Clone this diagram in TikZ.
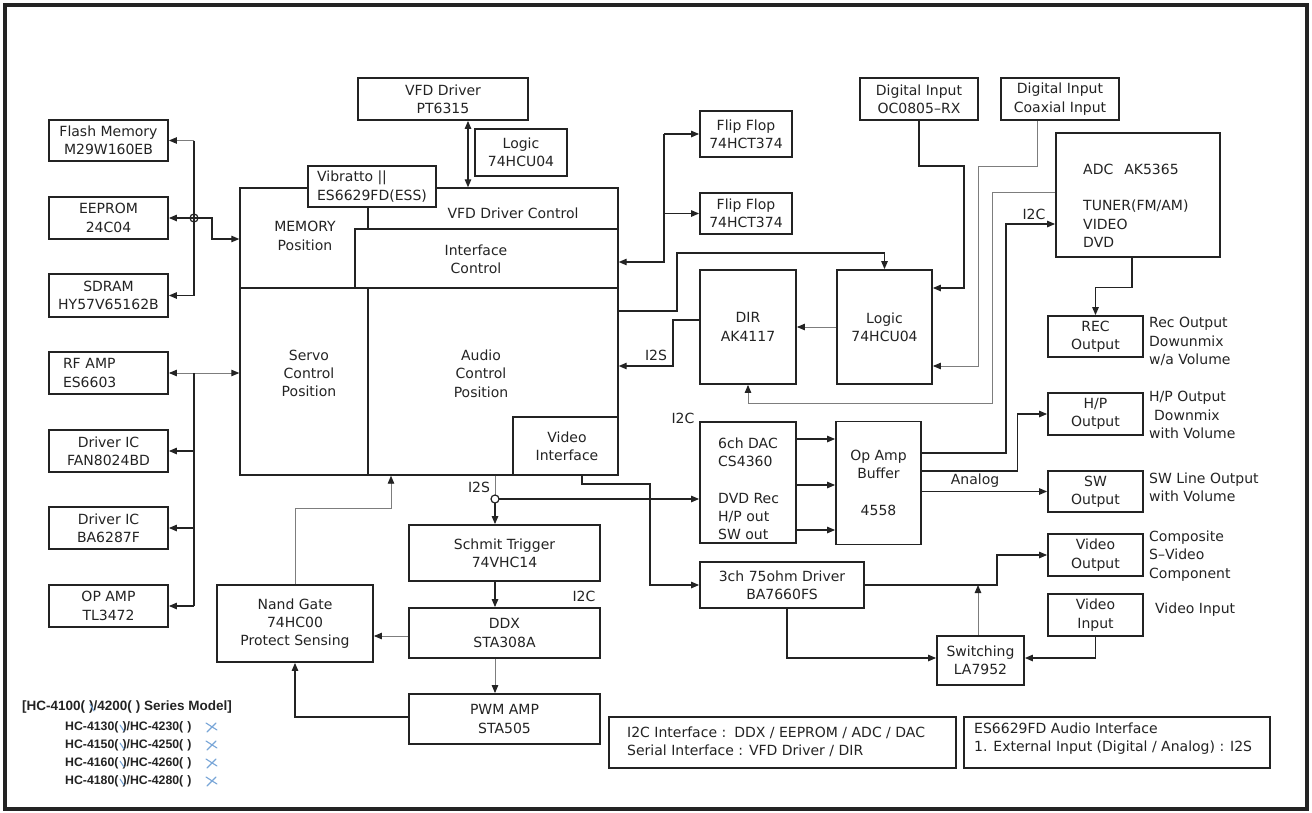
\documentclass[tikz,border=0pt]{standalone}
\usepackage{fontspec}
\usetikzlibrary{arrows.meta}
\newfontfamily\cadfont[Ligatures=TeX]{DejaVu Sans}
\newfontfamily\legfont{Liberation Sans}
\definecolor{ink}{RGB}{35,35,35}
\definecolor{faintink}{RGB}{125,125,125}
\definecolor{tickblue}{RGB}{120,165,215}
\begin{document}
\begin{tikzpicture}[x=1pt,y=-1pt,
  cadtxt/.style={font=\cadfont\fontsize{14}{18.3}\selectfont, inner sep=0pt, align=center, text=ink},
  compbox/.style={cadtxt, draw=ink, line width=1.8pt, fill=white},
  wire/.style={draw=ink, line width=1.2pt},
  faintwire/.style={draw=faintink, line width=0.9pt},
  divider/.style={draw=ink, line width=1.3pt},
  arrowend/.style={-{Triangle[length=8pt,width=6.5pt,color=ink]}},
  arrowboth/.style={{Triangle[length=8pt,width=6.5pt,color=ink]}-{Triangle[length=8pt,width=6.5pt,color=ink]}},
  legendtxt/.style={font=\legfont\bfseries\fontsize{12.3}{14}\selectfont, inner sep=0pt, anchor=west, text=ink},
  bluetick/.style={draw=tickblue, line width=1.1pt, line cap=round},
]
\useasboundingbox (0,0) rectangle (1312,812);
\draw[ink, line width=4pt] (5,5) rectangle (1307,809);

% ---------- main decoder block and its partitions ----------
\node[draw=ink, line width=1.4pt, minimum width=378pt, minimum height=287pt, inner sep=0pt] (main) at (429,331.5) {};
\draw[divider] (240,288) -- (618,288);
\draw[divider] (618,229) -- (355,229) -- (355,288);
\draw[divider] (368,207) -- (368,229);
\draw[divider] (368,288) -- (368,475);
\draw[divider] (513,475) |- (618,417);
\node[compbox, align=left, minimum width=128pt, minimum height=41pt] (vib) at (372,186.5) {Vibratto ||\\ES6629FD(ESS)};

\node[cadtxt] (memlbl) at (305,236) {MEMORY\\Position};
\node[cadtxt] (vfdlbl) at (513,213) {VFD Driver Control};
\node[cadtxt] (iflbl) at (476,259.5) {Interface\\Control};
\node[cadtxt] (servolbl) at (309,373.5) {Servo\\Control\\Position};
\node[cadtxt] (audiolbl) at (481,373.5) {Audio\\Control\\Position};
\node[cadtxt] (vidlbl) at (567,446) {Video\\Interface};

% ---------- memory and servo side ----------
\node[compbox, minimum width=119pt, minimum height=41pt] (flash) at (108.5,140.5) {Flash Memory\\M29W160EB};
\node[compbox, minimum width=119pt, minimum height=42pt] (eeprom) at (108.5,218) {EEPROM\\24C04};
\node[compbox, minimum width=119pt, minimum height=43pt] (sdram) at (108.5,295.5) {SDRAM\\HY57V65162B};
\node[compbox, align=left, text width=91pt, minimum width=119pt, minimum height=42pt] (rfamp) at (108.5,373) {RF AMP\\ES6603};
\node[compbox, minimum width=119pt, minimum height=42pt] (fan) at (108.5,451) {Driver IC\\FAN8024BD};
\node[compbox, minimum width=119pt, minimum height=42pt] (ba) at (108.5,528) {Driver IC\\BA6287F};
\node[compbox, minimum width=119pt, minimum height=42pt] (opamp) at (108.5,606) {OP AMP\\TL3472};

% ---------- display and serial side ----------
\node[compbox, minimum width=170pt, minimum height=42pt] (vfd) at (443,99) {VFD Driver\\PT6315};
\node[compbox, minimum width=92pt, minimum height=47pt] (logicsm) at (521,152.5) {Logic\\74HCU04};
\node[compbox, minimum width=92pt, minimum height=46pt] (ff1) at (746,134) {Flip Flop\\74HCT374};
\node[compbox, minimum width=92pt, minimum height=41pt] (ff2) at (746,213.5) {Flip Flop\\74HCT374};
\node[compbox, minimum width=96pt, minimum height=114pt] (dir) at (748,327) {DIR\\AK4117};
\node[compbox, minimum width=95pt, minimum height=114pt] (logic) at (884.5,327) {Logic\\74HCU04};
\node[compbox, minimum width=118pt, minimum height=42pt] (dig1) at (919,99) {Digital Input\\OC0805--RX};
\node[compbox, minimum width=118pt, minimum height=42pt] (dig2) at (1060,99) {Digital Input\\Coaxial Input};
\node[compbox, minimum width=164pt, minimum height=124pt] (adc) at (1138,195) {};
\node[cadtxt, align=left, anchor=west] (adctxt) at (1083,205.6) {ADC\hspace{11pt}AK5365\\\mbox{}\\TUNER(FM/AM)\\VIDEO\\DVD};

% ---------- audio outputs ----------
\node[compbox, minimum width=96pt, minimum height=121pt] (dac) at (748,482.5) {};
\node[cadtxt, align=left, anchor=west] (dactxt) at (718,488.7) {6ch DAC\\CS4360\\\mbox{}\\DVD Rec\\H/P out\\SW out};
\node[compbox, minimum width=85pt, minimum height=123pt] (opbuf) at (878.5,483) {Op Amp\\Buffer\\\mbox{}\\4558};
\node[compbox, minimum width=95pt, minimum height=41pt] (rec) at (1095.5,336.5) {REC\\Output};
\node[compbox, minimum width=95pt, minimum height=42pt] (hp) at (1095.5,414) {H/P\\Output};
\node[compbox, minimum width=95pt, minimum height=41pt] (sw) at (1095.5,491.5) {SW\\Output};
\node[compbox, minimum width=95pt, minimum height=42pt] (vout) at (1095.5,555) {Video\\Output};
\node[compbox, minimum width=95pt, minimum height=42pt] (vin) at (1095.5,615) {Video\\Input};

\node[cadtxt, align=left, anchor=west] (recnote) at (1149,341.5) {Rec Output\\Dowunmix\\w/a Volume};
\node[cadtxt, align=left, anchor=west] (hpnote) at (1149,415) {H/P Output\\\hspace{5pt}Downmix\\with Volume};
\node[cadtxt, align=left, anchor=west] (swnote) at (1149,487) {SW Line Output\\with Volume};
\node[cadtxt, align=left, anchor=west] (voutnote) at (1149,556) {Composite\\S--Video\\Component};
\node[cadtxt, anchor=west] (vinnote) at (1155,610) {Video Input};

% ---------- amplifier chain and video ----------
\node[compbox, minimum width=191pt, minimum height=56pt] (schmit) at (504.5,553) {Schmit Trigger\\74VHC14};
\node[compbox, minimum width=191pt, minimum height=50pt] (ddx) at (504.5,633) {DDX\\STA308A};
\node[compbox, minimum width=191pt, minimum height=50pt] (pwm) at (504.5,719) {PWM AMP\\STA505};
\node[compbox, minimum width=156pt, minimum height=77pt] (nand) at (295,623.5) {Nand Gate\\74HC00\\Protect Sensing};
\node[compbox, minimum width=164pt, minimum height=46pt] (drv3) at (782,585) {3ch 75ohm Driver\\BA7660FS};
\node[compbox, minimum width=87pt, minimum height=49pt] (swt) at (980.5,660.5) {Switching\\LA7952};

% ---------- notes ----------
\node[compbox, minimum width=347pt, minimum height=51pt] (note1) at (782.5,742.5) {};
\node[compbox, minimum width=306pt, minimum height=51pt] (note2) at (1117,742.5) {};
\node[cadtxt, align=left, anchor=west] (note1txt) at (627,742) {I2C Interface :\hspace{8pt}DDX / EEPROM / ADC / DAC\\Serial Interface : VFD Driver / DIR};
\node[cadtxt, align=left, anchor=west] (note2txt) at (974,738.5) {ES6629FD Audio Interface\\1. External Input (Digital / Analog) : I2S};

% ---------- bus labels ----------
\node[cadtxt] (i2sa) at (656,355) {I2S};
\node[cadtxt] (i2sb) at (479,487) {I2S};
\node[cadtxt] (i2ca) at (683,418) {I2C};
\node[cadtxt] (i2cb) at (584,596) {I2C};
\node[cadtxt] (i2cc) at (1034,214) {I2C};
\node[cadtxt] (analog) at (975,481) {Analog};

% ---------- connectors: memory bus ----------
\coordinate (memx) at (194,0);
\coordinate (mj) at (eeprom.east -| memx);
\draw[wire] (flash.east -| memx) -- (sdram.east -| memx);
\draw[faintwire, arrowend] (flash.east -| memx) -- (flash.east);
\draw[wire, arrowend] (sdram.east -| memx) -- (sdram.east);
\draw[wire, arrowboth] (eeprom.east) -- ([xshift=18pt]mj) |- (main.west |- 0,239);
\draw[wire] (mj) circle[radius=4pt];

% ---------- connectors: servo bus ----------
\draw[faintwire, arrowboth] (rfamp.east) -- (rfamp.east -| main.west);
\draw[wire] (rfamp.east -| memx) -- (opamp.east -| memx);
\draw[wire, arrowend] (fan.east -| memx) -- (fan.east);
\draw[wire, arrowend] (ba.east -| memx) -- (ba.east);
\draw[wire, arrowend] (opamp.east -| memx) -- (opamp.east);

% ---------- connectors: display / interface ----------
\draw[wire, arrowboth] ([xshift=25pt]vfd.south) -- ([xshift=25pt]vfd.south |- main.north);
\coordinate (ffb) at (664,262);
\draw[wire, arrowend] (ff1.west -| ffb) -- (ff1.west);
\draw[wire, arrowend] (ff2.west -| ffb) -- (ff2.west);
\draw[wire, arrowend] (ff1.west -| ffb) -- (ffb) -- (ffb -| main.east);
\draw[wire, arrowend] (main.east |- 0,311) -| (677,253) -| (logic.north);
\draw[wire, arrowend] (dig1.south) |- (964,166) |- (logic.east |- 0,288);
\draw[faintwire, arrowend] ([xshift=-23pt]dig2.south) |- (978,166) |- (logic.east |- 0,366);
\draw[faintwire, arrowend] (logic.west) -- (dir.east);
\draw[faintwire, arrowend] (adc.west |- 0,192) -| (992,403) -| (dir.south);
\draw[wire, arrowend] (dir.west |- 0,320) -| (673,366) -- (main.east |- 0,366);

% ---------- connectors: audio ----------
\draw[wire, arrowend] (opbuf.east |- 0,453) -| (1006,224) -- (adc.west |- 0,224);
\draw[wire, arrowend] ([xshift=-6pt]adc.south) |- ([yshift=28pt]rec.north) -- (rec.north);
\draw[wire, arrowend] (opbuf.east |- 0,471) -| ([xshift=-30pt]hp.west) -- (hp.west);
\draw[wire, arrowend] (opbuf.east |- sw.west) -- (sw.west);
\foreach \yy in {439,485,530} {
  \draw[wire, arrowend] (dac.east |- 0,\yy) -- (opbuf.west |- 0,\yy);
}
\coordinate (ring) at (495,499);
\draw[faintwire] (ring |- main.south) -- ([yshift=4pt]ring);
\draw[wire] (ring) circle[radius=4pt];
\draw[wire, arrowend] ([yshift=-4pt]ring) -- (ring |- schmit.north);
\draw[wire, arrowend] ([xshift=4pt]ring) -- (dac.west |- ring);
\draw[wire, arrowend] (ring |- schmit.south) -- (ring |- ddx.north);
\draw[faintwire, arrowend] (ring |- ddx.south) -- (ring |- pwm.north);
\draw[faintwire, arrowend] (ddx.west |- 0,636) -- (nand.east |- 0,636);
\draw[wire, arrowend] ([yshift=2pt]pwm.west) -| (nand.south);
\coordinate (nm) at (391,508);
\draw[faintwire, arrowend] (nand.north) |- (nm) -- (nm |- main.south);

% ---------- connectors: video ----------
\draw[wire, arrowend] (main.south -| 582,0) |- (650,484) |- (drv3.west);
\draw[wire, arrowend] (drv3.east) -| (997,555) -- (vout.west);
\draw[faintwire, arrowend] ([xshift=-2.5pt]swt.north) -- ([xshift=-2.5pt]swt.north |- drv3.east);
\draw[wire, arrowend] (vin.south) |- ([yshift=2.5pt]swt.east);
\draw[wire, arrowend] ([xshift=5pt]drv3.south) |- ([yshift=2.5pt]swt.west);

% ---------- model legend ----------
\node[legendtxt, font=\legfont\bfseries\fontsize{13.5}{16}\selectfont] (legtitle) at (22,707) {[HC-4100(\hspace{4pt})/4200(\hspace{4pt}) Series Model]};
\node[legendtxt] (leg1) at (65,727) {HC-4130(\hspace{4pt})/HC-4230(\hspace{4pt})};
\node[legendtxt] (leg2) at (65,745) {HC-4150(\hspace{4pt})/HC-4250(\hspace{4pt})};
\node[legendtxt] (leg3) at (65,763) {HC-4160(\hspace{4pt})/HC-4260(\hspace{4pt})};
\node[legendtxt] (leg4) at (65,781) {HC-4180(\hspace{4pt})/HC-4280(\hspace{4pt})};
\draw[bluetick] (90,704) -- (94,711);
\foreach \yy in {727,745,763,781} {
  \draw[bluetick] (120,\yy-2) -- (124,\yy+4);
  \draw[bluetick] (206,\yy-4) -- (217,\yy+3);
  \draw[bluetick] (207,\yy+5) -- (216,\yy-4);
}
\end{tikzpicture}
\end{document}
